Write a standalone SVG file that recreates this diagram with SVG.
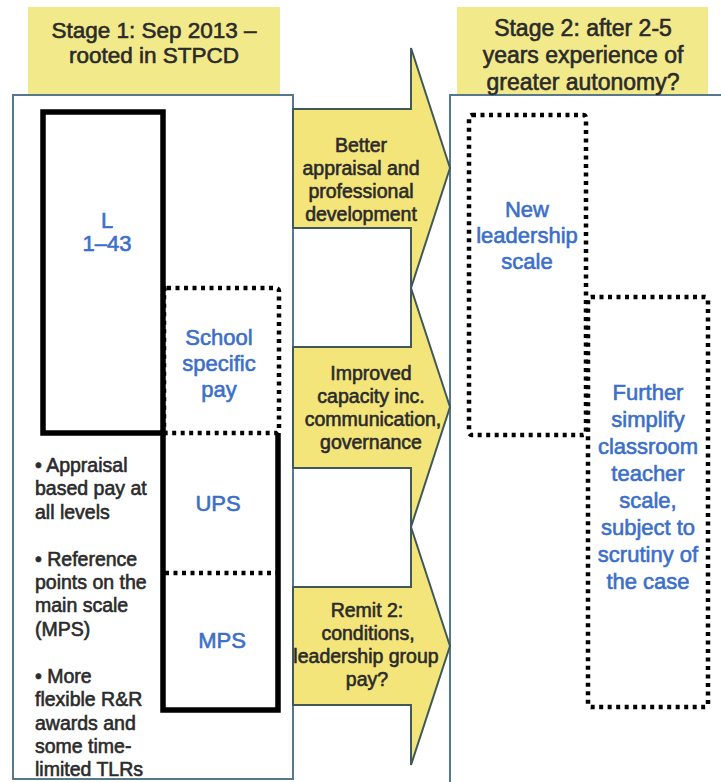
<svg xmlns="http://www.w3.org/2000/svg" width="721" height="782" viewBox="0 0 721 782">
<style>
.panel{fill:#fff;stroke:#56788a;stroke-width:2}
.hdr{fill:#f2ea8a}
.arrow{fill:#f3e57a;stroke:#3f5858;stroke-width:2;stroke-linejoin:miter}
.solid{fill:none;stroke:#000;stroke-width:5.5;stroke-linejoin:miter}
.dot{fill:none;stroke:#000;stroke-width:4.5;stroke-dasharray:4 4.5}
text{font-family:"Liberation Sans",Arial,sans-serif;stroke-width:0.6}
.h{font-size:22.5px;fill:#2b2b2b;stroke:#2b2b2b;text-anchor:middle}
.a{font-size:19.5px;fill:#2b2b2b;stroke:#2b2b2b;text-anchor:middle}
.b{font-size:19.5px;fill:#2b2b2b;stroke:#2b2b2b}
.blue{font-size:22px;fill:#3b6fca;stroke:#3b6fca;text-anchor:middle}
</style>
<rect width="721" height="782" fill="#fff"/>
<g id="stage1">
<rect class="hdr" x="28" y="7" width="252" height="88"/>
<rect class="panel" x="13" y="95" width="280" height="684"/>
<text class="h" x="154" y="38">Stage 1: Sep 2013 –</text>
<text class="h" x="154" y="63">rooted in STPCD</text>
</g>
<g id="stage2">
<rect class="hdr" x="457" y="7" width="251" height="88"/>
<rect class="panel" x="450" y="95" width="290" height="700"/>
<text class="h" x="583" y="36" style="font-size:23px">Stage 2: after 2-5</text>
<text class="h" x="583" y="63" style="font-size:23px">years experience of</text>
<text class="h" x="583" y="90" style="font-size:23px">greater autonomy?</text>
</g>
<g id="connectors">
<polygon id="arrow1" class="arrow" points="293,109 411,109 411,48 450,168 411,288 411,228 293,228"/>
<polygon id="arrow2" class="arrow" points="293,347 411,347 411,288 450,407 411,527 411,468 293,468"/>
<polygon id="arrow3" class="arrow" points="293,587 411,587 411,527 450,646 411,765 411,705 293,705"/>
<text class="a" x="361" y="152">Better</text>
<text class="a" x="361" y="175">appraisal and</text>
<text class="a" x="361" y="198">professional</text>
<text class="a" x="361" y="221">development</text>
<text class="a" x="371" y="380">Improved</text>
<text class="a" x="371" y="403">capacity inc.</text>
<text class="a" x="373" y="426">communication,</text>
<text class="a" x="371" y="449">governance</text>
<text class="a" x="367" y="617">Remit 2:</text>
<text class="a" x="368" y="640">conditions,</text>
<text class="a" x="366" y="663">leadership group</text>
<text class="a" x="367" y="686">pay?</text>
</g>
<g id="school">
<rect class="dot" x="164" y="288" width="115" height="145" rx="3"/>
<text class="blue" x="219" y="345">School</text>
<text class="blue" x="219" y="371">specific</text>
<text class="blue" x="219" y="397">pay</text>
</g>
<g id="leadership-L">
<rect class="solid" x="43" y="112" width="120" height="321"/>
<text class="blue" x="107" y="228">L</text>
<text class="blue" x="107" y="251">1–43</text>
</g>
<g id="ups-mps">
<path class="solid" d="M278,433 V710 H163 V433"/>
<line class="dot" x1="165" y1="573" x2="277" y2="573"/>
<text class="blue" x="218" y="511">UPS</text>
<text class="blue" x="222" y="648">MPS</text>
</g>
<g id="bullets">
<text class="b" x="35" y="472">• Appraisal</text>
<text class="b" x="35" y="495">based pay at</text>
<text class="b" x="35" y="519">all levels</text>
<text class="b" x="35" y="566">• Reference</text>
<text class="b" x="35" y="589">points on the</text>
<text class="b" x="35" y="612">main scale</text>
<text class="b" x="35" y="636">(MPS)</text>
<text class="b" x="35" y="683">• More</text>
<text class="b" x="35" y="706">flexible R&amp;R</text>
<text class="b" x="35" y="730">awards and</text>
<text class="b" x="35" y="753">some time-</text>
<text class="b" x="35" y="776">limited TLRs</text>
</g>
<g id="new-leadership">
<rect class="dot" x="469" y="115" width="117" height="320" rx="3"/>
<text class="blue" x="527" y="217">New</text>
<text class="blue" x="527" y="243">leadership</text>
<text class="blue" x="527" y="269">scale</text>
</g>
<g id="further">
<rect class="dot" x="588" y="297" width="120" height="410" rx="3"/>
<text class="blue" x="648" y="400">Further</text>
<text class="blue" x="648" y="427">simplify</text>
<text class="blue" x="648" y="454">classroom</text>
<text class="blue" x="648" y="481">teacher</text>
<text class="blue" x="648" y="508">scale,</text>
<text class="blue" x="648" y="535">subject to</text>
<text class="blue" x="648" y="562">scrutiny of</text>
<text class="blue" x="648" y="589">the case</text>
</g>
</svg>
